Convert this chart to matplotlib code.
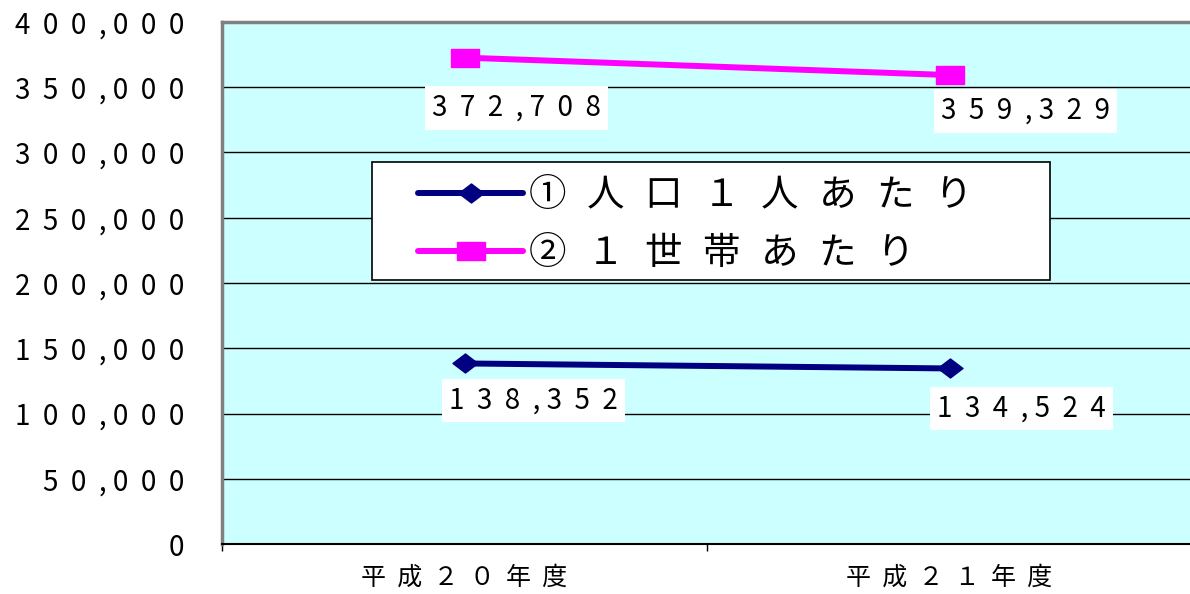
import matplotlib
matplotlib.use('Agg')
import matplotlib.pyplot as plt
from matplotlib.path import Path
from matplotlib.patches import Rectangle

plt.rcParams['font.family'] = ['Noto Sans CJK JP', 'DejaVu Sans']

# data
years = ['平成20年度', '平成21年度']
per_person = [138352, 134524]
per_household = [372708, 359329]
series_names = ['①人口1人あたり', '②1世帯あたり']
y_ticks = list(range(0, 400001, 50000))

# label offsets (px) from each point to the centre of its label box
off_person = [(69, -37), (72, -40)]
off_household = [(52, -50), (76, -36)]

NAVY = '#000080'
MAGENTA = '#FF00FF'
ZEN = str.maketrans('0123456789', '０１２３４５６７８９')
HAIR = '\u200a'


def num(v):
    # wide-tracked number like '4  0  0  , 0  0  0'
    s = f'{v:,}'
    out = ''
    for i, c in enumerate(s):
        if c == ',':
            out += ', '
        else:
            out += c
            if i + 1 < len(s):
                out += '  '
    return out


def spaced(s, sep):
    return sep.join(s.translate(ZEN))


diamond = Path([(-1, 0), (0, 0.76), (1, 0), (0, -0.76), (-1, 0)],
               [Path.MOVETO, Path.LINETO, Path.LINETO, Path.LINETO, Path.CLOSEPOLY])
box = Path([(-1, -0.68), (1, -0.68), (1, 0.68), (-1, 0.68), (-1, -0.68)],
           [Path.MOVETO, Path.LINETO, Path.LINETO, Path.LINETO, Path.CLOSEPOLY])

fig = plt.figure(figsize=(11.9, 5.94), dpi=100)
fig.patch.set_facecolor('white')
ax = fig.add_axes([222 / 1190, 50 / 594, 970 / 1190, 522 / 594])
ax.set_facecolor('#CCFFFF')

xs = [i + 0.5 for i in range(len(years))]
l1, = ax.plot(xs, per_person, color=NAVY, lw=4.3, marker=diamond, ms=18,
              mfc=NAVY, mec=NAVY, solid_capstyle='round', zorder=4)
l2, = ax.plot(xs, per_household, color=MAGENTA, lw=4.3, marker=box, ms=20,
              mfc=MAGENTA, mec=MAGENTA, solid_capstyle='round', zorder=4)

for vals, offs in ((per_person, off_person), (per_household, off_household)):
    for x, v, (dx, dy) in zip(xs, vals, offs):
        ax.annotate(num(v), (x, v), xytext=(dx, dy), textcoords='offset pixels',
                    ha='center', va='center', fontsize=20, color='black', zorder=5,
                    bbox=dict(boxstyle='square,pad=0.25', fc='white', ec='none'))

ax.set_xlim(0, 2)
ax.set_ylim(0, 400000)
ax.set_yticks(y_ticks)
ax.set_yticklabels([num(v) for v in y_ticks], fontsize=20)
ax.tick_params(axis='y', length=0, pad=27)
ax.set_xticks([0, 1, 2])
ax.set_xticklabels([])
ax.tick_params(axis='x', which='major', length=5, width=1, direction='out', color='black')
ax.set_xticks(xs, minor=True)
ax.set_xticklabels([spaced(y, '  ') for y in years], minor=True, fontsize=18)
ax.tick_params(axis='x', which='minor', length=0, pad=15)

ax.grid(axis='y', color='black', lw=1)
ax.set_axisbelow(True)
ax.spines['right'].set_visible(False)
ax.spines['top'].set_color('#808080')
ax.spines['top'].set_linewidth(2.5)
ax.spines['left'].set_color('#808080')
ax.spines['left'].set_linewidth(2.5)
ax.spines['bottom'].set_color('black')
ax.spines['bottom'].set_linewidth(1.5)

# legend frame
ax.add_patch(Rectangle((150 / 970, (544 - 280) / 522), 678 / 970, 118 / 522,
                       transform=ax.transAxes, fc='white', ec='black', lw=1.2, zorder=6))
leg = ax.legend([l1, l2], [spaced(n, '  ' + HAIR) for n in series_names],
                loc='upper left', bbox_to_anchor=(196 / 970, (544 - 176) / 522),
                frameon=False, fontsize=27, handlelength=2.8, handletextpad=0.15,
                borderpad=0, borderaxespad=0, labelspacing=0.5)
leg.set_zorder(7)

fig.savefig('out.png', dpi=100)
